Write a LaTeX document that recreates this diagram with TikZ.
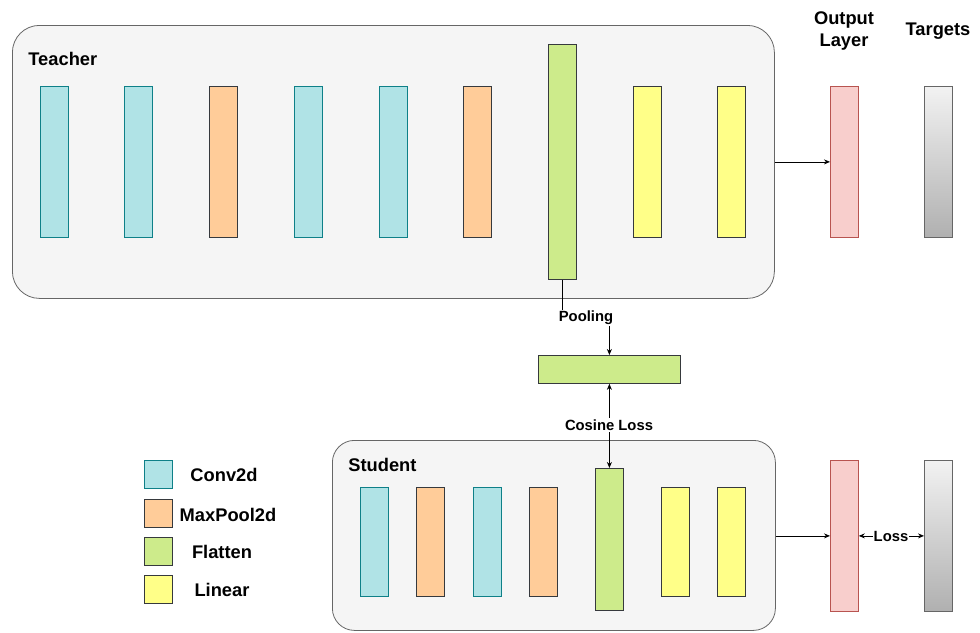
\documentclass[tikz,border=0pt]{standalone}
\usepackage{fontspec}
\setmainfont{Liberation Sans}
\usetikzlibrary{arrows.meta}
\definecolor{convF}{HTML}{B0E3E6}\definecolor{convS}{HTML}{0E8088}
\definecolor{poolF}{HTML}{FFCC99}\definecolor{darkS}{HTML}{36393D}
\definecolor{flatF}{HTML}{CDEB8B}\definecolor{linF}{HTML}{FFFF88}
\definecolor{outF}{HTML}{F8CECC}\definecolor{outS}{HTML}{B85450}
\definecolor{boxF}{HTML}{F5F5F5}\definecolor{boxS}{HTML}{666666}
\definecolor{tgtT}{HTML}{F2F2F2}\definecolor{tgtB}{HTML}{B0B0B0}
\begin{document}
\begin{tikzpicture}[x=1pt,y=-1pt,line width=0.8pt,
  layer/.style={draw,minimum width=28pt,inner sep=0pt,anchor=north west},
  conv/.style={layer,fill=convF,draw=convS},
  mpool/.style={layer,fill=poolF,draw=darkS},
  flat/.style={layer,fill=flatF,draw=darkS},
  lin/.style={layer,fill=linF,draw=darkS},
  outl/.style={layer,fill=outF,draw=outS},
  tgt/.style={layer,top color=tgtT,bottom color=tgtB,draw=boxS},
  panel/.style={draw=boxS,fill=boxF,anchor=north west,inner sep=0pt},
  lbl/.style={font=\bfseries\fontsize{18.3}{22}\selectfont,inner sep=0pt},
  elbl/.style={font=\bfseries\fontsize{14.8}{17}\selectfont,fill=white,inner sep=1.5pt},
  arr/.style={-{Stealth[length=6pt,width=5pt]},line width=0.8pt}]
\useasboundingbox (0,0) rectangle (980,632);
% Teacher panel
\node[panel,rounded corners=27pt,minimum width=762pt,minimum height=273pt] (T) at (12,25) {};
\node[lbl,anchor=west] (tl) at (28,59) {Teacher};
\node[conv,minimum height=151pt] (t1) at (40,86) {};
\node[conv,minimum height=151pt] (t2) at (124,86) {};
\node[mpool,minimum height=151pt] (t3) at (209,86) {};
\node[conv,minimum height=151pt] (t4) at (294,86) {};
\node[conv,minimum height=151pt] (t5) at (379,86) {};
\node[mpool,minimum height=151pt] (t6) at (463,86) {};
\node[flat,minimum height=235pt] (t7) at (548,44) {};
\node[lin,minimum height=151pt] (t8) at (633,86) {};
\node[lin,minimum height=151pt] (t9) at (717,86) {};
% outputs
\node[lbl,align=center] (ol) at (844,31) {Output\\Layer};
\node[lbl] (tg) at (938,31) {Targets};
\node[outl,minimum height=151pt] (o1) at (830,86) {};
\node[tgt,minimum height=151pt] (g1) at (924,86) {};
\draw[arr] (T.east |- o1.west) -- (o1.west);
% pooling
\node[flat,minimum width=142pt,minimum height=28pt] (pl) at (538,355) {};
\coordinate (pk) at (562,318);
\draw (t7.south -| pk) -- (pk) -- (pk -| pl.north) coordinate (pk2);
\draw[arr] (pk2) -- (pl.north);
\node[elbl] (plab) at (586,318) {Pooling};
% Student panel
\node[panel,rounded corners=22pt,minimum width=443pt,minimum height=190pt] (S) at (332,440) {};
\node[lbl,anchor=west] (sl) at (348,465) {Student};
\node[conv,minimum height=109pt] (s1) at (360,487) {};
\node[mpool,minimum height=109pt] (s2) at (416,487) {};
\node[conv,minimum height=109pt] (s3) at (473,487) {};
\node[mpool,minimum height=109pt] (s4) at (529,487) {};
\node[flat,minimum height=142pt] (s5) at (595,468) {};
\node[lin,minimum height=109pt] (s6) at (661,487) {};
\node[lin,minimum height=109pt] (s7) at (717,487) {};
\draw[arr,{Stealth[length=6pt,width=5pt]}-{Stealth[length=6pt,width=5pt]}] (pl.south) -- (s5.north);
\node[elbl] (cl) at (609,425) {Cosine Loss};
% student outputs
\node[outl,minimum height=151pt] (o2) at (830,460) {};
\node[tgt,minimum height=151pt] (g2) at (924,460) {};
\draw[arr] (S.east |- o2.west) -- (o2.west);
\draw[arr,{Stealth[length=6pt,width=5pt]}-{Stealth[length=6pt,width=5pt]}] (o2.east) -- (g2.west);
\node[elbl,inner sep=0.5pt] (ll) at (891,536) {Loss};
% legend
\node[conv,minimum width=28pt,minimum height=28pt] (k1) at (144,460) {};
\node[mpool,minimum width=28pt,minimum height=28pt] (k2) at (144,499) {};
\node[flat,minimum width=28pt,minimum height=28pt] (k3) at (144,537) {};
\node[lin,minimum width=28pt,minimum height=28pt] (k4) at (144,575) {};
\node[lbl] (kl1) at (224,475) {Conv2d};
\node[lbl] (kl2) at (228,515) {MaxPool2d};
\node[lbl] (kl3) at (222,552) {Flatten};
\node[lbl] (kl4) at (222,590) {Linear};
\end{tikzpicture}
\end{document}
